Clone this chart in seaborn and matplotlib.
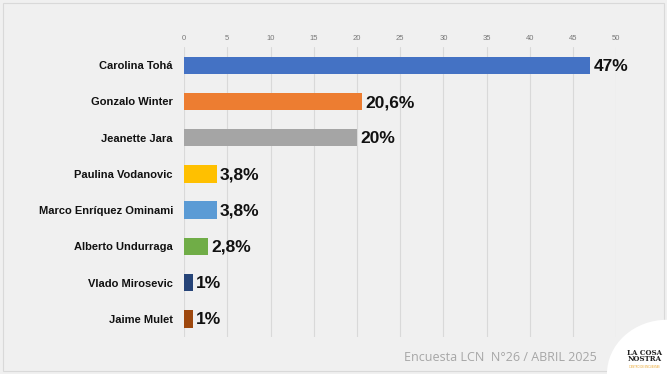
import matplotlib
matplotlib.use("Agg")
import matplotlib.pyplot as plt
import seaborn as sns
import pandas as pd
from matplotlib.patches import Ellipse, Rectangle

candidates = ["Carolina Tohá", "Gonzalo Winter", "Jeanette Jara", "Paulina Vodanovic",
              "Marco Enríquez Ominami", "Alberto Undurraga", "Vlado Mirosevic", "Jaime Mulet"]
values = [47, 20.6, 20, 3.8, 3.8, 2.8, 1, 1]
value_labels = ["47%", "20,6%", "20%", "3,8%", "3,8%", "2,8%", "1%", "1%"]
colors = ["#4472C4", "#ED7D31", "#A5A5A5", "#FFC000", "#5B9BD5", "#70AD47", "#264478", "#9E480E"]
xticks = [0, 5, 10, 15, 20, 25, 30, 35, 40, 45, 50]

df = pd.DataFrame({"candidate": candidates, "value": values})

sns.set_theme(style="white")
plt.rcParams['font.family'] = ['Liberation Sans', 'DejaVu Sans']

fig = plt.figure(figsize=(6.67, 3.74), dpi=100)
fig.patch.set_facecolor("#f0f0f0")
ax = fig.add_axes([0.276, 0.099, 0.648, 0.775])
ax.set_facecolor("#f0f0f0")

sns.barplot(data=df, x="value", y="candidate", hue="candidate", palette=colors,
            legend=False, width=0.48, saturation=1, linewidth=0, ax=ax, zorder=3)

for i, (v, lab) in enumerate(zip(values, value_labels)):
    ax.text(v + 0.35, i + 0.03, lab, va="center", ha="left", fontsize=12.5, fontweight="bold",
            color="#111111", zorder=4)

ax.set_xlim(0, 50)
ax.set_ylim(7.5, -0.5)
ax.set_xticks(xticks)
ax.xaxis.tick_top()
ax.tick_params(axis="x", labelsize=5.5, colors="#777777", length=0, pad=4)
ax.tick_params(axis="y", labelsize=8, length=0, pad=8)
for t in ax.get_yticklabels():
    t.set_fontweight("bold")
    t.set_color("#111111")
ax.grid(axis="x", color="#d9d9d9", linewidth=0.8, zorder=0)
for s in ax.spines.values():
    s.set_visible(False)
ax.set_xlabel("")
ax.set_ylabel("")

fig.patches.append(Rectangle((0.005, 0.008), 0.99, 0.984, transform=fig.transFigure,
                             facecolor="none", edgecolor="#d9d9d9", linewidth=0.8, zorder=0))

fig.text(0.895, 0.045, "Encuesta LCN  N°26 / ABRIL 2025", ha="right", va="center",
         fontsize=9, color="#a6a6a6", family=["Open Sans", "DejaVu Sans"])
circ = Ellipse((1.0, 0.0), 0.18, 0.29, transform=fig.transFigure,
               facecolor="white", edgecolor="none", zorder=1)
fig.patches.append(circ)
fig.text(0.966, 0.048, "LA COSA\nNOSTRA", ha="center", va="center", fontsize=5,
         fontweight="bold", color="#222222", family="DejaVu Serif", linespacing=0.8)
fig.text(0.966, 0.018, "CENTRO DE ENCUESTAS", ha="center", va="center", fontsize=1.8,
         color="#e8a020")

fig.savefig("out.png", dpi=100, facecolor=fig.get_facecolor())
